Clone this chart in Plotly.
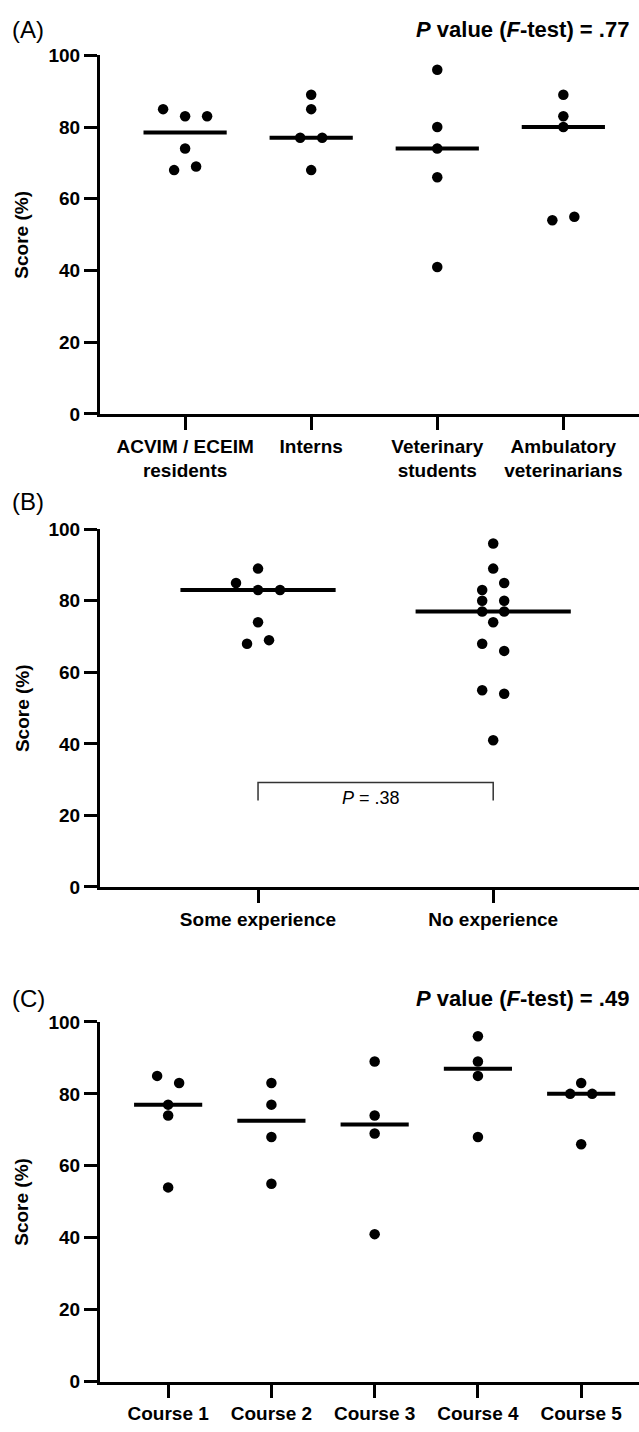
import numpy as np
import plotly.graph_objects as go

# ---------------- data ----------------
labels_a = ["ACVIM / ECEIM<br>residents", "Interns", "Veterinary<br>students", "Ambulatory<br>veterinarians"]
residents = [85, 83, 83, 74, 68, 69]
interns = [89, 85, 77, 77, 68]
students = [96, 80, 74, 66, 41]
ambulatory = [89, 83, 80, 54, 55]

labels_b = ["Some experience", "No experience"]
some_exp = [89, 85, 83, 83, 74, 68, 69]
no_exp = [96, 89, 83, 85, 80, 80, 77, 77, 74, 68, 66, 55, 54, 41]

labels_c = ["Course 1", "Course 2", "Course 3", "Course 4", "Course 5"]
course1 = [85, 83, 77, 74, 54]
course2 = [83, 77, 68, 55]
course3 = [89, 74, 69, 41]
course4 = [96, 89, 85, 68]
course5 = [83, 80, 80, 66]

y_ticks = [0, 20, 40, 60, 80, 100]
p_text_a = "<b><i>P</i> value (<i>F</i>-test) = .77</b>"
p_text_b = "<i>P</i> = .38"
p_text_c = "<b><i>P</i> value (<i>F</i>-test) = .49</b>"

# ---------------- layout / style ----------------
W, H = 639, 1432
X0 = 100            # pixel x of the y-axis
FONT = "Liberation Sans, Arial, sans-serif"
SPACING_PX = 22     # horizontal spacing of points sharing a bin
BIN_GAP = 2.0

panels = [
    dict(cats=labels_a, data=[residents, interns, students, ambulatory],
         xr=[-0.675, 3.6], top=46, bottom=410),
    dict(cats=labels_b, data=[some_exp, no_exp],
         xr=[-0.672, 1.62], top=527, bottom=890),
    dict(cats=labels_c, data=[course1, course2, course3, course4, course5],
         xr=[-0.66, 4.56], top=1027, bottom=1392),
]


def swarm_offsets(vals):
    order = sorted(range(len(vals)), key=lambda i: vals[i])
    bins, cur = [], [order[0]]
    for i in order[1:]:
        if vals[i] - vals[cur[-1]] <= BIN_GAP:
            cur.append(i)
        else:
            bins.append(cur)
            cur = [i]
    bins.append(cur)
    offs = [0.0] * len(vals)
    for b in bins:
        b = sorted(b)
        n = len(b)
        for k, i in enumerate(b):
            offs[i] = (k - (n - 1) / 2) * SPACING_PX
    return offs


fig = go.Figure()
layout_axes = {}
for pi, p in enumerate(panels):
    sfx = "" if pi == 0 else str(pi + 1)
    xr = p["xr"]
    px_per_unit = (W - X0) / (xr[1] - xr[0])
    for ci, vals in enumerate(p["data"]):
        med = float(np.median(vals))
        fig.add_trace(go.Scatter(
            x=[ci - 0.33, ci + 0.33], y=[med, med], mode="lines",
            line=dict(color="black", width=4), xaxis="x" + sfx, yaxis="y" + sfx,
            showlegend=False, hoverinfo="skip"))
        offs = swarm_offsets(vals)
        xs = [ci + o / px_per_unit for o in offs]
        fig.add_trace(go.Scatter(
            x=xs, y=vals, mode="markers",
            marker=dict(size=10.5, color="black", line=dict(width=0)),
            xaxis="x" + sfx, yaxis="y" + sfx, showlegend=False))
    axis_style = dict(showline=True, linewidth=3, linecolor="black", ticks="outside",
                      ticklen=13, tickwidth=3, tickcolor="black", showgrid=False,
                      zeroline=False, fixedrange=True,
                      tickfont=dict(family=FONT, size=19, color="black", weight="bold"))
    layout_axes["xaxis" + sfx] = dict(
        domain=[X0 / W, 1], range=xr, anchor="y" + sfx,
        tickvals=list(range(len(p["cats"]))), ticktext=p["cats"], **axis_style)
    layout_axes["yaxis" + sfx] = dict(
        domain=[1 - p["bottom"] / H, 1 - p["top"] / H], range=[0, 100],
        anchor="x" + sfx, tickvals=y_ticks, ticktext=[str(t) for t in y_ticks],
        **axis_style)

# bracket in panel B
fig.add_trace(go.Scatter(x=[0, 0, 1, 1], y=[24.2, 29.2, 29.2, 24.2], mode="lines",
                         line=dict(color="#333333", width=1.5), xaxis="x2", yaxis="y2",
                         showlegend=False, hoverinfo="skip"))

annotations = []
for p, lab, ypx in zip(panels, ["(A)", "(B)", "(C)"], [20, 499, 1003]):
    annotations.append(dict(text=lab, x=10 / W, y=1 - ypx / H, xref="paper", yref="paper",
                            xanchor="left", yanchor="middle", showarrow=False,
                            font=dict(family=FONT, size=24, color="black")))
    annotations.append(dict(text="<b>Score (%)</b>", x=22 / W,
                            y=1 - (p["top"] + p["bottom"]) / 2 / H, xref="paper", yref="paper",
                            xanchor="center", yanchor="middle", textangle=-90, showarrow=False,
                            font=dict(family=FONT, size=19, color="black")))
for txt, ypx in [(p_text_a, 20), (p_text_c, 1003)]:
    annotations.append(dict(text=txt, x=631 / W, y=1 - ypx / H, xref="paper", yref="paper",
                            xanchor="right", yanchor="middle", showarrow=False,
                            font=dict(family=FONT, size=22, color="black")))
annotations.append(dict(text=p_text_b, x=0.48, y=24.8, xref="x2", yref="y2",
                        xanchor="center", yanchor="middle", showarrow=False,
                        font=dict(family=FONT, size=18, color="black")))

fig.update_layout(width=W, height=H, margin=dict(l=0, r=0, t=0, b=0),
                  paper_bgcolor="white", plot_bgcolor="white",
                  annotations=annotations, **layout_axes)

fig.write_html("out.html", config={"displayModeBar": False},
               post_script="document.body.style.margin='0';document.body.style.padding='0';"
                           "document.documentElement.style.overflow='hidden';")
